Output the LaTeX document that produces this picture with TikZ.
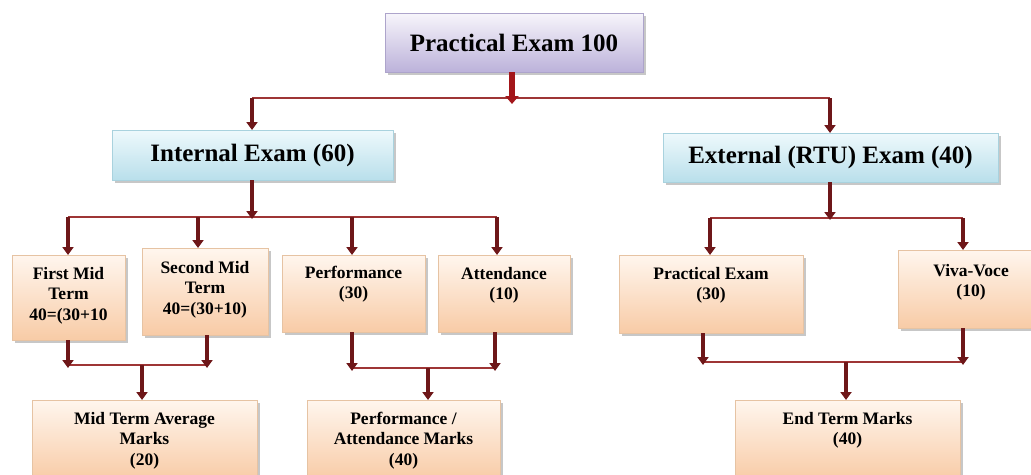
\documentclass[tikz,border=0pt]{standalone}
\usepackage{fontspec}
\setmainfont{Liberation Serif}
\usetikzlibrary{arrows.meta,shadows}
\definecolor{otop}{HTML}{FFF6EE}
\definecolor{obot}{HTML}{F8CBA6}
\definecolor{oedge}{HTML}{E6C3A3}
\definecolor{btop}{HTML}{EEF9FC}
\definecolor{bbot}{HTML}{B9DFEB}
\definecolor{bedge}{HTML}{A9D2DE}
\definecolor{ptop}{HTML}{F7F5FB}
\definecolor{pbot}{HTML}{BCB2DA}
\definecolor{pedge}{HTML}{ADA4CB}
\definecolor{maroon}{HTML}{6E1719}
\definecolor{barred}{HTML}{9E3535}
\definecolor{brightred}{HTML}{A3161A}
\newcommand{\tbox}[4]{\parbox[c][#2pt][t]{#1pt}{\centering\vspace*{#3pt}#4\par}}
\tikzset{
 anybox/.style={inner sep=0pt, outer sep=0pt, anchor=north west, line width=0.8pt,
   drop shadow={shadow xshift=2.5pt, shadow yshift=-2.5pt, fill=black, opacity=0.22}},
 obox/.style={anybox, draw=oedge, top color=otop, bottom color=obot,
   font=\bfseries\fontsize{17.5}{20.5}\selectfont},
 bbox/.style={anybox, draw=bedge, top color=btop, bottom color=bbot,
   font=\bfseries\fontsize{25}{30}\selectfont},
 pbox/.style={anybox, draw=pedge, top color=ptop, bottom color=pbot,
   font=\bfseries\fontsize{25}{30}\selectfont},
 arr/.style={draw=maroon, line width=4pt, -{Triangle[width=11pt,length=8pt]}},
 bar/.style={draw=barred, line width=2pt},
 toparr/.style={draw=brightred, line width=6pt, -{Triangle[width=13pt,length=8pt]}},
}
\begin{document}
\begin{tikzpicture}[x=1pt,y=-1pt]
\useasboundingbox (0,0) rectangle (1031,474);
\clip (0,0) rectangle (1031,474);
% boxes
\node[pbox, minimum width=258pt, minimum height=59pt] (top) at (385,13) {Practical Exam 100};
\node[bbox, minimum width=281pt, minimum height=50pt] (int) at (112,130) {Internal Exam (60)};
\node[bbox, minimum width=335pt, minimum height=49pt] (ext) at (663,133) {External (RTU) Exam (40)};
\node[obox] (fm) at (12,255) {\tbox{113}{85}{12}{First Mid\\Term\\40=(30+10}};
\node[obox] (sm) at (142,248) {\tbox{126}{87}{13}{Second Mid\\Term\\40=(30+10)}};
\node[obox] (perf) at (282,255) {\tbox{143}{77}{11}{Performance\\(30)}};
\node[obox] (att) at (438,255) {\tbox{132}{77}{12}{Attendance\\(10)}};
\node[obox] (prac) at (619,255) {\tbox{184}{78}{12}{Practical Exam\\(30)}};
\node[obox] (viva) at (898,250) {\tbox{146}{78}{14}{Viva-Voce\\(10)}};
\node[obox] (avg) at (32,400) {\tbox{225}{80}{12}{Mid Term Average\\Marks\\(20)}};
\node[obox] (pam) at (307,400) {\tbox{193}{80}{12}{Performance /\\Attendance Marks\\(40)}};
\node[obox] (etm) at (735,400) {\tbox{225}{80}{12}{End Term Marks\\(40)}};
% level 1
\coordinate (b1L) at (252,98);
\coordinate (b1R) at (830,98);
\coordinate (b1M) at (512,104);
\draw[bar] (b1L) -- (b1R);
\draw[toparr] (top.south -| b1M) -- (b1M);
\draw[arr] (b1L) -- (int.north -| b1L);
\draw[arr] (b1R) -- (ext.north -| b1R);
% internal
\coordinate (b2M) at (252,219);
\coordinate (b2a) at (68,217);
\coordinate (b2b) at (198,217);
\coordinate (b2c) at (352,217);
\coordinate (b2d) at (497,217);
\draw[bar] (b2a) -- (b2d);
\draw[arr] (int.south -| b2M) -- (b2M);
\draw[arr] (b2a) -- (fm.north -| b2a);
\draw[arr] (b2b) -- (sm.north -| b2b);
\draw[arr] (b2c) -- (perf.north -| b2c);
\draw[arr] (b2d) -- (att.north -| b2d);
% external
\coordinate (b3M) at (830,220);
\coordinate (b3a) at (710,218);
\coordinate (b3b) at (963,218);
\draw[bar] (b3a) -- (b3b);
\draw[arr] (ext.south -| b3M) -- (b3M);
\draw[arr] (b3a) -- (prac.north -| b3a);
\draw[arr] (b3b) -- (viva.north -| b3b);
% mid term join
\coordinate (j1a) at (68,368);
\coordinate (j1b) at (207,368);
\coordinate (j1m) at (142,365);
\draw[bar] (68,365) -- (207,365);
\draw[arr] (fm.south -| j1a) -- (j1a);
\draw[arr] (sm.south -| j1b) -- (j1b);
\draw[arr] (j1m) -- (avg.north -| j1m);
% performance join
\coordinate (j2a) at (352,371);
\coordinate (j2b) at (495,371);
\coordinate (j2m) at (428,368);
\draw[bar] (352,368) -- (495,368);
\draw[arr] (perf.south -| j2a) -- (j2a);
\draw[arr] (att.south -| j2b) -- (j2b);
\draw[arr] (j2m) -- (pam.north -| j2m);
% external join
\coordinate (j3a) at (703,365);
\coordinate (j3b) at (963,365);
\coordinate (j3m) at (846,362);
\draw[bar] (703,362) -- (963,362);
\draw[arr] (prac.south -| j3a) -- (j3a);
\draw[arr] (viva.south -| j3b) -- (j3b);
\draw[arr] (j3m) -- (etm.north -| j3m);
\end{tikzpicture}
\end{document}
